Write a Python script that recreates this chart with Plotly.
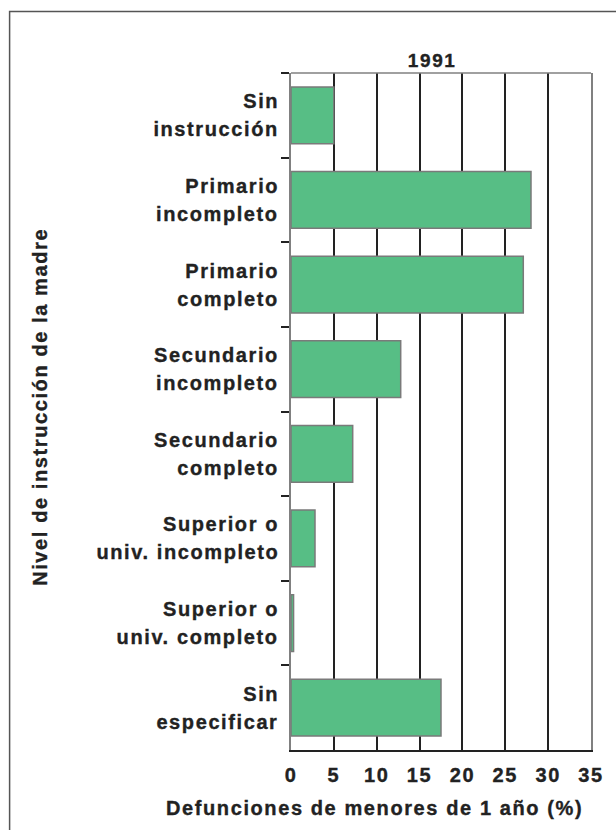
import plotly.graph_objects as go

# Infant deaths by mother's education level, 1991
categories = [
    "Sin instrucción",
    "Primario incompleto",
    "Primario completo",
    "Secundario incompleto",
    "Secundario completo",
    "Superior o univ. incompleto",
    "Superior o univ. completo",
    "Sin especificar",
]
label_line1 = ["Sin", "Primario", "Primario", "Secundario", "Secundario",
               "Superior o", "Superior o", "Sin"]
label_line2 = ["instrucción", "incompleto", "completo", "incompleto", "completo",
               "univ. incompleto", "univ. completo", "especificar"]
values = [5.0, 28.0, 27.1, 12.8, 7.2, 2.8, 0.3, 17.5]
x_ticks = [0, 5, 10, 15, 20, 25, 30, 35]

title_text = "1991"
x_title = "Defunciones de menores de 1 año (%)"
y_title = "Nivel de instrucción de la madre"

TXT = "#222222"
FONT = "Liberation Sans, Arial, sans-serif"
FS = 20
BAR = "rgb(87,190,133)"

fig = go.Figure()
fig.add_trace(go.Bar(
    x=values, y=categories, orientation="h",
    marker=dict(color=BAR, line=dict(color="#7a7a7a", width=1.5)),
    hoverinfo="x+y",
))

annotations = []
for cat, l1, l2 in zip(categories, label_line1, label_line2):
    for txt, shift in ((l1, 14), (l2, -14)):
        annotations.append(dict(
            x=0, xref="paper", y=cat, yref="y", yshift=shift,
            xanchor="right", yanchor="middle", xshift=-10, align="right",
            text="<b>%s</b>" % txt, showarrow=False,
            font=dict(family=FONT, size=FS, color=TXT),
        ))

annotations += [
    dict(x=0.47, y=1.0192, xref="paper", yref="paper", text="<b>%s</b>" % title_text,
         showarrow=False, xanchor="center", yanchor="middle",
         font=dict(family=FONT, size=19, color=TXT)),
    dict(x=0.278, y=-0.0857, xref="paper", yref="paper", text="<b>%s</b>" % x_title,
         showarrow=False, xanchor="center", yanchor="middle",
         font=dict(family=FONT, size=FS, color=TXT)),
    dict(x=-0.836, y=0.5066, xref="paper", yref="paper", text="<b>%s</b>" % y_title,
         showarrow=False, xanchor="center", yanchor="middle", textangle=-90,
         font=dict(family=FONT, size=FS, color=TXT)),
]

shapes = [
    # outer frame
    dict(type="rect", xref="paper", yref="paper", x0=-0.938, x1=1.10, y0=-0.13, y1=1.0908,
         line=dict(color="#555555", width=1.5), layer="below"),
    # top border of the plot area
    dict(type="line", xref="paper", yref="paper", x0=0, x1=1, y0=1, y1=1,
         line=dict(color="#808080", width=1.5), layer="above"),
]

fig.update_layout(
    width=616, height=830,
    margin=dict(l=291, r=25, t=73, b=80),
    paper_bgcolor="white", plot_bgcolor="white",
    bargap=0.33, showlegend=False,
    annotations=annotations, shapes=shapes,
    font=dict(family=FONT, size=FS, color=TXT),
)
fig.update_xaxes(
    range=[0, 35], tickvals=x_ticks, ticktext=["<b>%d</b>" % v for v in x_ticks],
    showgrid=True, gridcolor="#222222", gridwidth=1.5,
    showline=True, linecolor="#222222", linewidth=1.5, mirror=False,
    zeroline=False, ticks="", ticklabelstandoff=6,
    tickfont=dict(family=FONT, size=FS, color=TXT),
)
fig.update_yaxes(
    type="category", categoryorder="array", categoryarray=categories,
    autorange="reversed", tickson="boundaries",
    showticklabels=False, ticks="outside", ticklen=8, tickwidth=1.5, tickcolor="#222222",
    showgrid=False, showline=True, linecolor="#808080", linewidth=1.5, mirror=True,
)

# tracked, slightly heavier lettering
post = """
var gd = document.getElementById('{plot_id}');
gd.querySelectorAll('text').forEach(function(t){
  t.style.letterSpacing = '1.6px';
  t.style.stroke = '#222222';
  t.style.strokeWidth = '0.35px';
});
"""
fig.write_html("out.html", post_script=post, config={"displayModeBar": False})
